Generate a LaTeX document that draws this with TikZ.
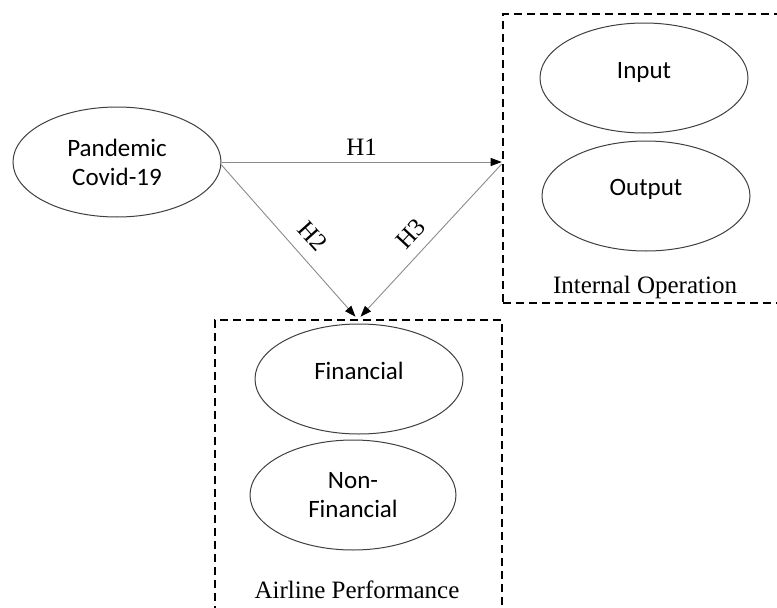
\documentclass[tikz,border=0pt]{standalone}
\usepackage{fontspec}
\setmainfont{Liberation Serif}
\newfontfamily\ovalfont{Carlito}
\usetikzlibrary{arrows.meta,shapes.geometric}
\begin{document}
\begin{tikzpicture}[x=1pt,y=-1pt,
  construct/.style={ellipse, draw=black!75, line width=1pt,
    minimum width=208pt, minimum height=110pt, inner sep=0pt,
    font=\ovalfont\fontsize{25}{29}\selectfont, align=center},
  group/.style={draw=black, line width=2.6pt, dash pattern=on 8pt off 5pt,
    inner sep=0pt},
  grouplabel/.style={font=\fontsize{25}{30}\selectfont, inner sep=0pt},
  hyp/.style={draw=black!45, line width=0.9pt,
    -{Triangle[length=11pt,width=8pt,fill=black,color=black]}},
  hyplabel/.style={font=\fontsize{25}{30}\selectfont, inner sep=0pt}]
\useasboundingbox (0,0) rectangle (777,608);
\fill[white] (0,0) rectangle (777,608);
\clip (0,0) rectangle (777,608);

% grouping frames
\node[group, minimum width=307pt, minimum height=289pt] (io) at (656.5,158.5) {};
\node[group, minimum width=287pt, minimum height=310pt] (ap) at (358.5,475) {};
\node[grouplabel] (iolabel) at (645,287) {Internal Operation};
\node[grouplabel] (aplabel) at (357,590) {Airline Performance};

% constructs
\node[construct] (pand) at (117,162) {Pandemic\\Covid-19};
\node[construct] (input) at (644,78) {\raisebox{16pt}{Input}};
\node[construct] (output) at (646,196) {\raisebox{18pt}{Output}};
\node[construct] (fin) at (359,379) {\raisebox{17pt}{Financial}};
\node[construct, minimum width=206pt] (nonfin) at (353,495) {Non-\\Financial};

% connector end points on the frames
\coordinate (ioin) at (pand.east -| io.west);
\coordinate (apin2) at ([xshift=-3pt,yshift=2pt]ap.north);
\coordinate (apin3) at ([xshift=2pt,yshift=2pt]ap.north);

% hypotheses
\draw[hyp] (pand.east) -- node[hyplabel, above=6pt] (h1) {H1} (ioin);
\draw[hyp] ([yshift=-3pt]pand.east) -- (apin2);
\draw[hyp] ([yshift=-2pt]ioin) -- (apin3);
\node[hyplabel, rotate=-48] (h2) at (313,236) {H2};
\node[hyplabel, rotate=47] (h3) at (411,234) {H3};
\end{tikzpicture}
\end{document}
